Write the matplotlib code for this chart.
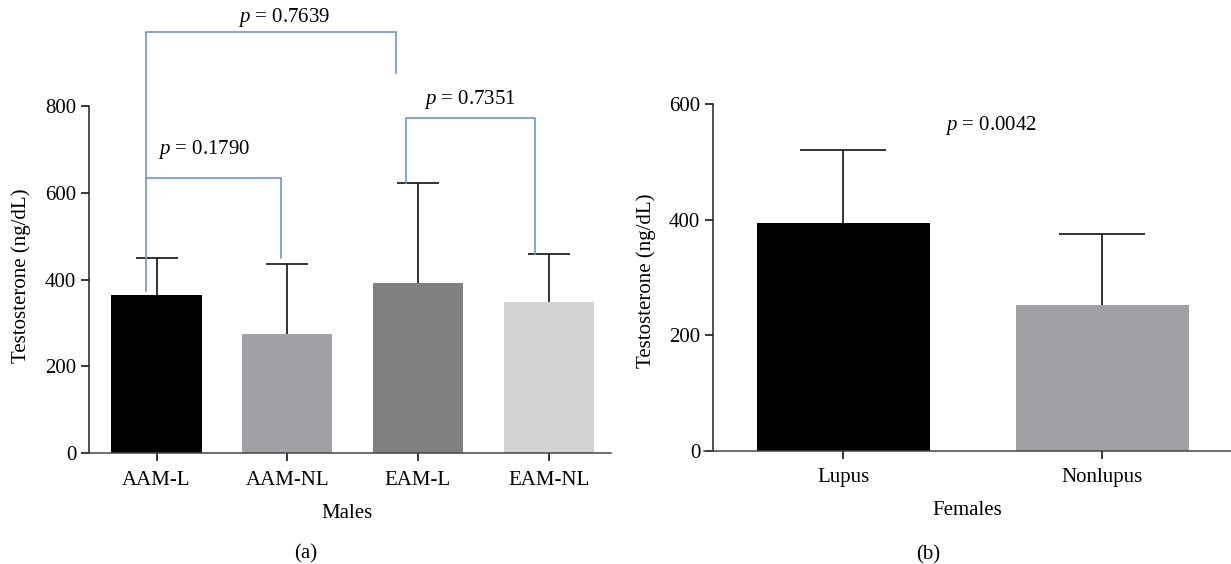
import numpy as np
import matplotlib
matplotlib.use("Agg")
import matplotlib.pyplot as plt

plt.rcParams['font.family'] = ['Liberation Serif', 'DejaVu Serif']
plt.rcParams['font.size'] = 15
plt.rcParams['mathtext.fontset'] = 'custom'
plt.rcParams['mathtext.rm'] = 'Liberation Serif'
plt.rcParams['mathtext.it'] = 'Liberation Serif:italic'

# panel (a) - males
male_groups = ["AAM-L", "AAM-NL", "EAM-L", "EAM-NL"]
male_means = [364, 274, 392, 348]
male_upper = [451, 435, 623, 460]
male_colors = ["#000000", "#a0a1a4", "#808080", "#d3d3d3"]

# brackets: (x_left, x_right, y_top, y_left_end, y_right_end, label, label_x, label_y)
male_brackets = [
    (-0.083, 1.835, 971, 374, 876, "$p$ = 0.7639", 0.976, 1003),
    (-0.083, 0.953, 634, 634, 451, "$p$ = 0.1790", 0.367, 699),
    (1.911, 2.898, 772, 623, 460, "$p$ = 0.7351", 2.399, 815),
]

# panel (b) - females
female_groups = ["Lupus", "Nonlupus"]
female_means = [394, 253]
female_upper = [521, 376]
female_colors = ["#000000", "#a0a1a4"]
female_p = "$p$ = 0.0042"

blue = "#6f94cf"
W, H = 1231, 564
fig = plt.figure(figsize=(W / 100, H / 100), dpi=100)


def px_axes(l, r, b, t):
    return fig.add_axes([l / W, (H - b) / H, (r - l) / W, (b - t) / H])


def style(ax, spine_x):
    for s in ["top", "right"]:
        ax.spines[s].set_visible(False)
    ax.spines["left"].set_position(("data", spine_x))
    ax.spines["left"].set_linewidth(1.1)
    ax.spines["bottom"].set_linewidth(1.1)
    ax.spines["left"].set_color("#222222")
    ax.spines["bottom"].set_color("#444444")
    ax.tick_params(direction="out", length=5.5, width=1.1)
    ax.tick_params(axis="x", pad=7)
    ax.tick_params(axis="y", pad=4)


def upper_errorbars(ax, x, means, upper, capsize):
    eb = ax.errorbar(x, means, yerr=[np.zeros(len(x)), np.array(upper) - np.array(means)],
                     fmt="none", ecolor="#111111", elinewidth=1.2, capsize=capsize,
                     capthick=1.2, zorder=3)
    # hide the lower caps (they sit on top of the bars)
    eb.lines[1][0].set_visible(False)


# ---- (a)
ax1 = px_axes(82, 611, 453.3, 106)
x1 = np.arange(len(male_groups))
ax1.bar(x1, male_means, width=0.69, color=male_colors, zorder=2)
upper_errorbars(ax1, x1, male_means, male_upper, 14.8)
for xl, xr, yt, yl, yr, lab, lx, ly in male_brackets:
    ax1.plot([xl, xl, xr, xr], [yl, yt, yt, yr], color=blue, lw=1.2, clip_on=False, zorder=4)
    ax1.text(lx, ly, lab, ha="center", va="center")
ax1.set_xlim(-0.570, 3.477)
ax1.set_ylim(0, 800)
ax1.set_yticks([0, 200, 400, 600, 800])
ax1.set_xticks(x1)
ax1.set_xticklabels(male_groups)
ax1.set_ylabel("Testosterone (ng/dL)")
ax1.yaxis.set_label_coords(-0.096, 0.51)
ax1.set_xlabel("Males", labelpad=10)
style(ax1, -0.514)

# ---- (b)
ax2 = px_axes(704, 1231, 451, 104.3)
x2 = np.arange(len(female_groups))
ax2.bar(x2, female_means, width=0.668, color=female_colors, zorder=2)
upper_errorbars(ax2, x2, female_means, female_upper, 31)
ax2.text(0.571, 564, female_p, ha="center", va="center")
ax2.set_xlim(-0.537, 1.498)
ax2.set_ylim(0, 600)
ax2.set_yticks([0, 200, 400, 600])
ax2.set_xticks(x2)
ax2.set_xticklabels(female_groups)
ax2.set_ylabel("Testosterone (ng/dL)")
ax2.yaxis.set_label_coords(-0.091, 0.49)
ax2.set_xlabel("Females", labelpad=10)
style(ax2, -0.501)

fig.text(306 / W, 1 - 554 / H, "(a)", ha="center", va="center")
fig.text(928 / W, 1 - 555 / H, "(b)", ha="center", va="center")

fig.savefig("out.png", dpi=100)
